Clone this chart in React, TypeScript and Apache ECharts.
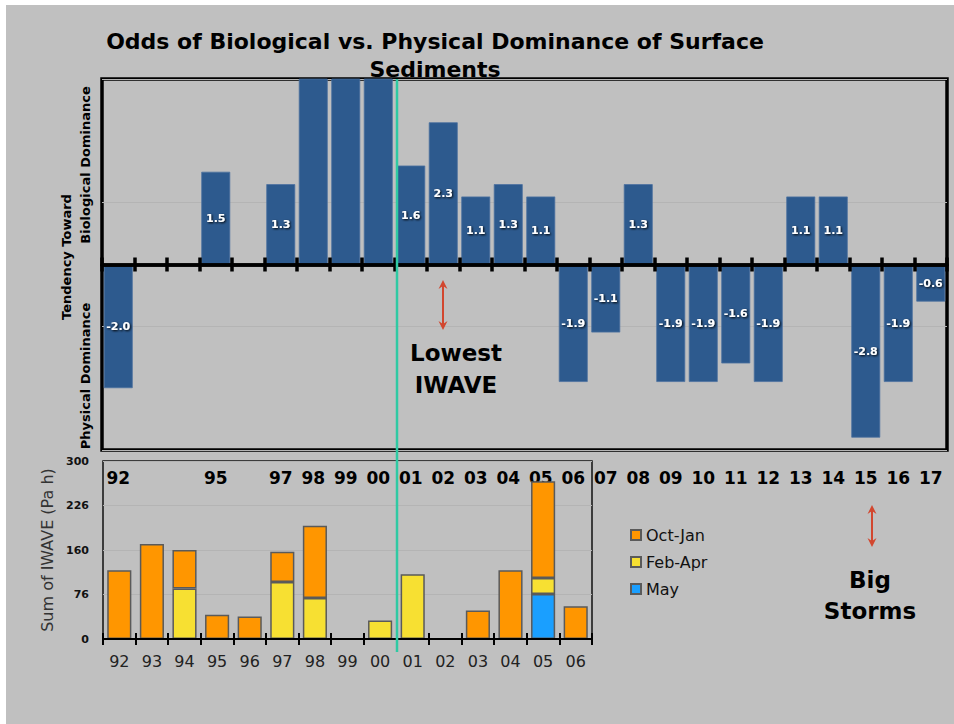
import React, { useEffect, useRef } from 'react';
import * as echarts from 'echarts';

// ---- Top chart: log-odds of biological (+) vs physical (-) dominance ----
const topYears = ['92','93','94','95','96','97','98','99','00','01','02','03','04','05','06','07','08','09','10','11','12','13','14','15','16','17'];
const oddsValues: (number | null)[] = [-2.0, null, null, 1.5, null, 1.3, 3.2, 3.2, 3.2, 1.6, 2.3, 1.1, 1.3, 1.1, -1.9, -1.1, 1.3, -1.9, -1.9, -1.6, -1.9, 1.1, 1.1, -2.8, -1.9, -0.6];

// ---- Bottom chart: sum of IWAVE by season ----
const iwaveYears = ['92','93','94','95','96','97','98','99','00','01','02','03','04','05','06'];
const octJan: (number | null)[] = [116, 160, 65, 41, 38, 51, 122, null, null, null, null, 48, 116, 163, 55];
const febApr: (number | null)[] = [null, null, 85, null, null, 96, 69, null, 31, 109, null, null, null, 27, null];
const may: (number | null)[] = [null, null, null, null, null, null, null, null, null, null, null, null, null, 76, null];
const iwaveTicks = [0, 75, 150, 225, 300];
const iwaveTickLabels = ['0', '76', '160', '226', '300'];

const F = 'DejaVu Sans';

function arrow(x: number, y1: number, y2: number, color: string) {
  return [
    { type: 'line', z: 50, shape: { x1: x, y1: y1 + 3, x2: x, y2: y2 - 3 }, style: { stroke: color, lineWidth: 2 } },
    { type: 'polygon', z: 50, shape: { points: [[x, y1], [x - 4.5, y1 + 9], [x, y1 + 6], [x + 4.5, y1 + 9]] }, style: { fill: color } },
    { type: 'polygon', z: 50, shape: { points: [[x, y2], [x - 4.5, y2 - 9], [x, y2 - 6], [x + 4.5, y2 - 9]] }, style: { fill: color } },
  ];
}

export default function App() {
  const ref = useRef<HTMLDivElement>(null);
  useEffect(() => {
    document.body.style.margin = '0';
    const chart = echarts.init(ref.current!, null, { renderer: 'svg' });
    const topMax = 3;
    const red = '#d2472f';
    const option: any = {
      animation: false,
      backgroundColor: '#c0c0c0',
      textStyle: { fontFamily: F },
      grid: [
        { left: 102, top: 79, right: 7, bottom: 274, show: true, borderColor: '#000', borderWidth: 3.5 },
        { left: 103, top: 461, right: 362, bottom: 85, show: true, borderColor: '#111', borderWidth: 1.5 },
      ],
      xAxis: [
        {
          gridIndex: 0, type: 'category', data: topYears, position: 'bottom', z: 5,
          axisLine: { onZero: true, onZeroAxisIndex: 0, lineStyle: { color: '#000', width: 3.5 } },
          axisTick: { show: true, interval: 0, length: 7, lineStyle: { color: '#000', width: 3.5 } },
          axisLabel: { show: false },
        },
        {
          gridIndex: 0, type: 'category', data: topYears, position: 'top', z: 5,
          axisLine: { onZero: true, onZeroAxisIndex: 2, lineStyle: { color: '#000', width: 3.5 } },
          axisTick: { show: true, interval: 0, length: 7, lineStyle: { color: '#000', width: 3.5 } },
          axisLabel: { show: false },
        },
        {
          gridIndex: 0, type: 'category', data: topYears, position: 'bottom',
          axisLine: { show: false, onZero: false },
          axisTick: { show: false },
          axisLabel: {
            interval: 0, margin: 19, fontFamily: F, fontWeight: 'bold', fontSize: 17, color: '#000',
            formatter: (v: string, i: number) => (oddsValues[i] == null ? '' : v),
          },
        },
        {
          gridIndex: 1, type: 'category', data: iwaveYears, position: 'bottom', z: 5,
          axisLine: { onZero: true, onZeroAxisIndex: 1, lineStyle: { color: '#000', width: 2 } },
          axisTick: { show: true, interval: 0, length: 6, lineStyle: { color: '#000', width: 2 } },
          axisLabel: { interval: 0, margin: 14, fontFamily: F, fontSize: 16, color: '#222' },
        },
        {
          gridIndex: 1, type: 'category', data: iwaveYears, position: 'top', z: 5,
          axisLine: { onZero: true, onZeroAxisIndex: 3, lineStyle: { color: '#000', width: 2 } },
          axisTick: { show: true, interval: 0, length: 6, lineStyle: { color: '#000', width: 2 } },
          axisLabel: { show: false },
        },
      ],
      yAxis: [
        {
          gridIndex: 0, type: 'value', min: -3, max: 3, interval: 2,
          axisLine: { show: false }, axisTick: { show: false },
          splitLine: { lineStyle: { color: '#b4b4b4', width: 1 } },
          axisLabel: { show: false },
        },
        {
          gridIndex: 1, type: 'value', min: 0, max: 300, interval: 75,
          axisLine: { show: false }, axisTick: { show: false },
          splitLine: { lineStyle: { color: '#b4b4b4', width: 1 } },
          axisLabel: {
            margin: 14, fontFamily: F, fontWeight: 'bold', fontSize: 11, color: '#111',
            formatter: (v: number) => iwaveTickLabels[iwaveTicks.indexOf(v)] ?? '',
          },
          name: 'Sum of IWAVE (Pa h)', nameLocation: 'middle', nameGap: 36,
          nameTextStyle: { fontFamily: F, fontSize: 16, color: '#333' },
        },
        { gridIndex: 0, type: 'value', min: -3, max: 3, interval: 2, show: false },
        { gridIndex: 1, type: 'value', min: 0, max: 300, interval: 75, show: false },
      ],
      legend: {
        data: ['Oct-Jan', 'Feb-Apr', 'May'], orient: 'vertical', left: 625, top: 522,
        itemWidth: 10, itemHeight: 10, itemGap: 11, icon: 'rect',
        textStyle: { fontFamily: F, fontSize: 16, color: '#111', lineHeight: 16 },
      },
      series: [
        {
          type: 'bar', name: 'Odds', xAxisIndex: 0, yAxisIndex: 0, barCategoryGap: '11%',
          data: oddsValues.map((v) => (v == null ? null : { value: v, label: { show: Math.abs(v) <= topMax } })),
          itemStyle: { color: '#2d5a8e', borderColor: '#4d71a0', borderWidth: 0.8 },
          label: {
            show: true, position: 'inside', color: '#fff', fontFamily: F, fontWeight: 'bold', fontSize: 11,
            textShadowColor: '#000', textShadowBlur: 2, textShadowOffsetX: 1, textShadowOffsetY: 1,
            formatter: (p: any) => Number(p.value).toFixed(1),
          },
        },
        {
          type: 'bar', name: 'May', stack: 'iwave', xAxisIndex: 3, yAxisIndex: 1, barCategoryGap: '26%',
          data: may, itemStyle: { color: '#1a9fff', borderColor: '#5a5a5a', borderWidth: 1.5 },
        },
        {
          type: 'bar', name: 'Feb-Apr', stack: 'iwave', xAxisIndex: 3, yAxisIndex: 1, barCategoryGap: '26%',
          data: febApr, itemStyle: { color: '#f7e032', borderColor: '#5a5a5a', borderWidth: 1.5 },
        },
        {
          type: 'bar', name: 'Oct-Jan', stack: 'iwave', xAxisIndex: 3, yAxisIndex: 1, barCategoryGap: '26%',
          data: octJan, itemStyle: { color: '#ff9600', borderColor: '#5a5a5a', borderWidth: 1.5 },
        },
      ],
      graphic: {
        elements: [
          { type: 'rect', z: 100, shape: { x: 0, y: 0, width: 954, height: 5 }, style: { fill: '#fff' } },
          { type: 'rect', z: 100, shape: { x: 0, y: 0, width: 6, height: 724 }, style: { fill: '#fff' } },
          {
            type: 'text', x: 435, y: 55, z: 50,
            style: {
              text: 'Odds of Biological vs. Physical Dominance of Surface\nSediments',
              font: `bold 22px "${F}"`, fill: '#000', align: 'center', verticalAlign: 'middle', lineHeight: 28,
            },
          },
          { type: 'text', x: 66, y: 257, rotation: Math.PI / 2, z: 50,
            style: { text: 'Tendency Toward', font: `bold 13px "${F}"`, fill: '#000', align: 'center', verticalAlign: 'middle' } },
          { type: 'text', x: 85, y: 165, rotation: Math.PI / 2, z: 50,
            style: { text: 'Biological Dominance', font: `bold 13px "${F}"`, fill: '#000', align: 'center', verticalAlign: 'middle' } },
          { type: 'text', x: 85, y: 376, rotation: Math.PI / 2, z: 50,
            style: { text: 'Physical Dominance', font: `bold 13px "${F}"`, fill: '#000', align: 'center', verticalAlign: 'middle' } },
          { type: 'line', z: 60, shape: { x1: 397, y1: 79, x2: 397, y2: 652 }, style: { stroke: '#2fc9a3', lineWidth: 2.5 } },
          ...arrow(443, 280, 330, red),
          { type: 'text', x: 456, y: 369, z: 50,
            style: { text: 'Lowest\nIWAVE', font: `bold 23px "${F}"`, fill: '#000', align: 'center', verticalAlign: 'middle', lineHeight: 32 } },
          ...arrow(872, 505, 547, red),
          { type: 'text', x: 870, y: 595, z: 50,
            style: { text: 'Big\nStorms', font: `bold 23px "${F}"`, fill: '#000', align: 'center', verticalAlign: 'middle', lineHeight: 31 } },
        ],
      },
    };
    chart.setOption(option);
    return () => chart.dispose();
  }, []);
  return <div ref={ref} style={{ position: 'absolute', left: 0, top: 0, width: 954, height: 724 }} />;
}
